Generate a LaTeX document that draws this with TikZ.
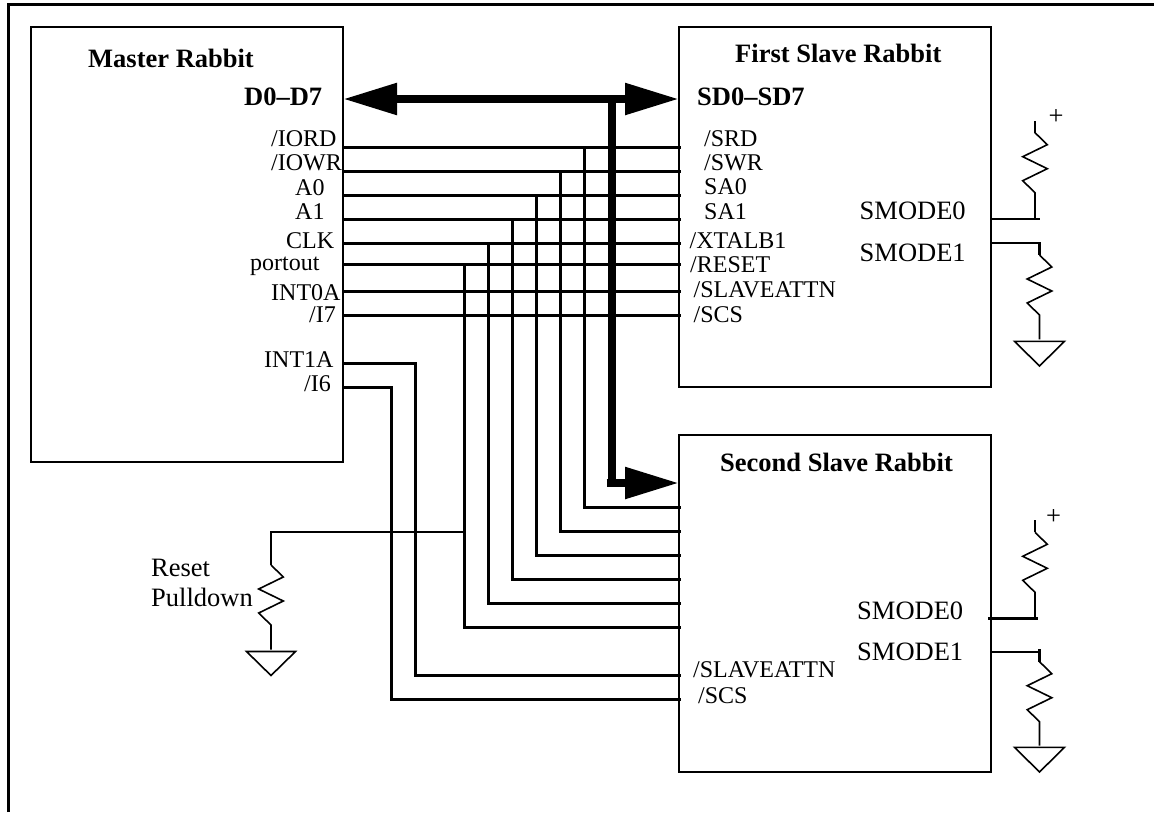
\documentclass[tikz,border=0pt]{standalone}
\usepackage{fontspec}
\setmainfont{Liberation Serif}
\usetikzlibrary{arrows.meta}
\tikzset{
    zigzag/.style={to path={-- ++(12.3,12) -- ++(-24.6,12) -- ++(24.6,12) -- ++(-24.6,12) -- ++(12.3,12) -- (\tikztotarget)}},
    box/.style={draw, line width=2.6pt, anchor=center},
    title/.style={font=\fontsize{26.5}{30}\selectfont\bfseries},
    big/.style={font=\fontsize{26.5}{30}\selectfont},
    wire/.style={line width=3pt},
    modewire/.style={line width=2.2pt},
    thinwire/.style={line width=1.6pt},
    bus/.style={line width=8.5pt}
}
\begin{document}
\begin{tikzpicture}[x=1pt, y=-1pt, every node/.style={inner sep=0pt, anchor=base west, font=\fontsize{24}{28}\selectfont}, >={Triangle[length=54pt,width=30pt]}]
        \useasboundingbox (0,0) rectangle (1154,812);
        % outer frame, cut off at the page edge
        \coordinate (framea) at (8.3,812);
        \coordinate (frameb) at (8.3,4.7);
        \coordinate (framec) at (1154,4.7);
        \draw[line width=3.2pt] (framea) -- (frameb) -- (framec);
        % the three boards
        \node[box, minimum width=312pt, minimum height=435pt] (master) at (187,244.5) {};
        \node[box, minimum width=312pt, minimum height=360pt] (first) at (835,207) {};
        \node[box, minimum width=312pt, minimum height=337pt] (second) at (835,603.5) {};
        \node[title] (mtitle) at (88,67) {Master Rabbit};
        \node[title] (ftitle) at (735,62) {First Slave Rabbit};
        \node[title] (stitle) at (720,471) {Second Slave Rabbit};
        % master pins
        \node[title] (md) at (244,105) {D0--D7};
        \node (miord) at (271,146.7) {/IORD};
        \node (miowr) at (271,170.7) {/IOWR};
        \node (ma0) at (295,195) {A0};
        \node (ma1) at (295,219.3) {A1};
        \node (mclk) at (286,248.3) {CLK};
        \node (mport) at (250,270) {portout};
        \node (mint0) at (271,300) {INT0A};
        \node (mi7) at (309,322.7) {/I7};
        \node (mint1) at (264,367.3) {INT1A};
        \node (mi6) at (304,391.7) {/I6};
        % first slave pins
        \node[title] (fd) at (697,105) {SD0--SD7};
        \node (fsrd) at (704,146.7) {/SRD};
        \node (fswr) at (704,170.7) {/SWR};
        \node (fsa0) at (704,194.5) {SA0};
        \node (fsa1) at (704,219) {SA1};
        \node (fxtal) at (689.5,248.3) {/XTALB1};
        \node (freset) at (690,272.3) {/RESET};
        \node (fattn) at (693.5,297.3) {/SLAVEATTN};
        \node (fscs) at (693.5,322.7) {/SCS};
        \node[big] (fmode0) at (859.5,219) {SMODE0};
        \node[big] (fmode1) at (859.5,261.7) {SMODE1};
        % second slave pins
        \node (sattn) at (693,677) {/SLAVEATTN};
        \node (sscs) at (698,703) {/SCS};
        \node[big] (smode0) at (857,619) {SMODE0};
        \node[big] (smode1) at (857,660.7) {SMODE1};
        % data bus
        \coordinate (busm) at (343,99);
        \coordinate (busf) at (679,99);
        \coordinate (busj) at (612,99);
        \coordinate (busk) at (612,487);
        \coordinate (busl) at (606.7,483);
        \coordinate (buss) at (679,483);
        \draw[bus, <->] (busm) -- (busf);
        \draw[bus] (busj) -- (busk);
        \draw[bus, ->] (busl) -- (buss);
        % pin coordinates on the master edge
        \coordinate (p1) at (343,147);
        \coordinate (p2) at (343,171);
        \coordinate (p3) at (343,195);
        \coordinate (p4) at (343,219);
        \coordinate (p5) at (343,243);
        \coordinate (p6) at (343,264);
        \coordinate (p7) at (343,291);
        \coordinate (p8) at (343,315);
        \coordinate (p9) at (343,363);
        \coordinate (p10) at (343,387);
        % same on the first slave edge
        \coordinate (q1) at (681,147);
        \coordinate (q2) at (681,171);
        \coordinate (q3) at (681,195);
        \coordinate (q4) at (681,219);
        \coordinate (q5) at (681,243);
        \coordinate (q6) at (681,264);
        \coordinate (q7) at (681,291);
        \coordinate (q8) at (681,315);
        \draw[wire] (p1) -- (q1);
        \draw[wire] (p2) -- (q2);
        \draw[wire] (p3) -- (q3);
        \draw[wire] (p4) -- (q4);
        \draw[wire] (p5) -- (q5);
        \draw[wire] (p6) -- (q6);
        \draw[wire] (p7) -- (q7);
        \draw[wire] (p8) -- (q8);
        % branches down to the second slave
        \coordinate (j1) at (584,147);
        \coordinate (j2) at (560,171);
        \coordinate (j3) at (536,195);
        \coordinate (j4) at (512,219);
        \coordinate (j5) at (488,243);
        \coordinate (j6) at (464,264);
        \coordinate (t1) at (681,507);
        \coordinate (t2) at (681,531);
        \coordinate (t3) at (681,555);
        \coordinate (t4) at (681,579);
        \coordinate (t5) at (681,603);
        \coordinate (t6) at (681,627);
        \coordinate (t7) at (681,675);
        \coordinate (t8) at (681,699);
        \draw[wire] (j1) |- (t1);
        \draw[wire] (j2) |- (t2);
        \draw[wire] (j3) |- (t3);
        \draw[wire] (j4) |- (t4);
        \draw[wire] (j5) |- (t5);
        \draw[wire] (j6) |- (t6);
        \coordinate (k7) at (415.5,363);
        \coordinate (k8) at (391.5,387);
        \draw[wire] (p9) -- (k7) |- (t7);
        \draw[wire] (p10) -- (k8) |- (t8);
        % reset pulldown
        \node[big] (rlabela) at (151,576.7) {Reset};
        \node[big] (rlabelb) at (151,606) {Pulldown};
        \coordinate (rj) at (464,532);
        \coordinate (rc) at (271,532);
        \coordinate (ra) at (271,565);
        \coordinate (rb) at (271,649.5);
        \coordinate (rg) at (271,651.5);
        \draw[modewire] (rj) -- (rc) -- (ra);
        \draw[thinwire] (ra) to[zigzag] (rb);
        \draw[thinwire] (rg) -- ++(-24.5,0) -- ++(24.5,24) -- ++(24.5,-24) -- cycle;
        % first slave mode resistors
        \node[big, anchor=center] (fplus) at (1056,117) {+};
        \coordinate (fupa) at (1035,121);
        \coordinate (fupb) at (1035,132.7);
        \coordinate (fupc) at (1035,218.7);
        \coordinate (fmodea) at (991,218.7);
        \coordinate (fmodeb) at (1040,218.7);
        \draw[modewire] (fupa) -- (fupb);
        \draw[thinwire] (fupb) to[zigzag] (fupc);
        \draw[modewire] (fmodea) -- (fmodeb);
        \coordinate (fdna) at (991,242.7);
        \coordinate (fdnb) at (1039.5,242.7);
        \coordinate (fdnc) at (1039.5,255);
        \coordinate (fdnd) at (1039.5,339.3);
        \coordinate (fgnd) at (1039.5,341.3);
        \draw[modewire] (fdna) -- (fdnb) -- (fdnc);
        \draw[thinwire] (fdnc) to[zigzag] (fdnd);
        \draw[thinwire] (fgnd) -- ++(-25,0) -- ++(25,24.7) -- ++(25,-24.7) -- cycle;
        % second slave mode resistors
        \node[big, anchor=center] (splus) at (1053.7,517) {+};
        \coordinate (supa) at (1035,520);
        \coordinate (supb) at (1035,532.3);
        \coordinate (supc) at (1035,618.5);
        \coordinate (smodea) at (988,618.5);
        \coordinate (smodeb) at (1038,618.5);
        \draw[modewire] (supa) -- (supb);
        \draw[thinwire] (supb) to[zigzag] (supc);
        \draw[modewire] (smodea) -- (smodeb);
        \coordinate (sdna) at (991,652);
        \coordinate (sdnb) at (1039.5,652);
        \coordinate (sdnt) at (1039.5,649);
        \coordinate (sdnc) at (1039.5,661.7);
        \coordinate (sdnd) at (1039.5,745.5);
        \coordinate (sgnd) at (1039.5,747.3);
        \draw[modewire] (sdna) -- (sdnb);
        \draw[modewire] (sdnt) -- (sdnc);
        \draw[thinwire] (sdnc) to[zigzag] (sdnd);
        \draw[thinwire] (sgnd) -- ++(-25,0) -- ++(25,24.7) -- ++(25,-24.7) -- cycle;
    \end{tikzpicture}
\end{document}
